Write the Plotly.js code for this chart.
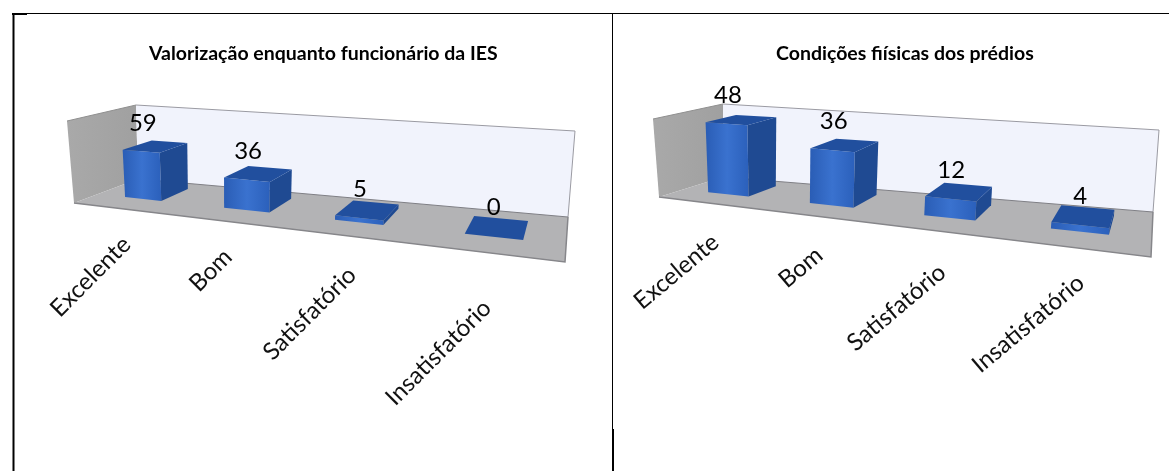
<!DOCTYPE html><html><head><meta charset="utf-8"><script src="https://cdn.plot.ly/plotly-3.0.0.min.js"></script>
<style>html,body{margin:0;padding:0;background:#fff}#c{width:1169px;height:471px}
.scatterlayer,.annotation{filter:blur(.5px)}</style></head><body><div id="c"></div><script>
const categories=["Excelente","Bom","Satisfatório","Insatisfatório"];
const leftTitle="Valorização enquanto funcionário da IES";
const rightTitle="Condições fiísicas dos prédios";
const leftValues=[59,36,5,0];
const rightValues=[48,36,12,4];

const panels=[
 {title:leftTitle,values:leftValues,zMax:100,titleX:323,titleY:52,
  floor:[[74,203],[565,262],[568,217],[138,179]],
  rise:[[-7,-82],[10,-95],[7,-86],[-2,-74]],
  uc:[.137,.409,.652,.89],uw:[.105,.108,.095,.093],
  tick:{pos:[[89,275],[209,269],[308,312],[437,351]],ang:-45}},
 {title:rightTitle,values:rightValues,zMax:53,titleX:905,titleY:52,
  floor:[[659,197],[1151,257],[1153,212],[723,177]],
  rise:[[-6,-78],[9,-90],[6,-82],[0,-73]],
  uc:[.155,.444,.694,.904],uw:[.13,.106,.094,.082],
  tick:{pos:[[675,270],[799,266],[895,306],[1027,322]],ang:-40}}
];
const depth=[.34,.8];
const FONT="Lato, Carlito, 'Open Sans', sans-serif";

function homo(q){const [x0,y0]=q[0],[x1,y1]=q[1],[x2,y2]=q[2],[x3,y3]=q[3];
 const dx1=x1-x2,dx2=x3-x2,sx=x0-x1+x2-x3,dy1=y1-y2,dy2=y3-y2,sy=y0-y1+y2-y3,den=dx1*dy2-dx2*dy1;
 const g=(sx*dy2-dx2*sy)/den,h=(dx1*sy-sx*dy1)/den;
 return [x1-x0+g*x1,x3-x0+h*x3,x0,y1-y0+g*y1,y3-y0+h*y3,y0,g,h];}
function projector(p){const m=homo(p.floor),r=p.rise;
 return (u,d,v)=>{const w=m[6]*u+m[7]*d+1,x=(m[0]*u+m[1]*d+m[2])/w,y=(m[3]*u+m[4]*d+m[5])/w,
  k=(v||0)/p.zMax,
  rx=(1-u)*(1-d)*r[0][0]+u*(1-d)*r[1][0]+u*d*r[2][0]+(1-u)*d*r[3][0],
  ry=(1-u)*(1-d)*r[0][1]+u*(1-d)*r[1][1]+u*d*r[2][1]+(1-u)*d*r[3][1];
  return [x+k*rx,y+k*ry];};}

const traces=[];
function poly(pts,color,grad){const xs=pts.map(a=>a[0]),ys=pts.map(a=>a[1]);xs.push(xs[0]);ys.push(ys[0]);
 const t={type:'scatter',mode:'lines',x:xs,y:ys,fill:'toself',line:{width:0},hoverinfo:'skip',showlegend:false};
 if(grad)t.fillgradient=grad;else t.fillcolor=color;traces.push(t);}
function edge(pts,color,w){traces.push({type:'scatter',mode:'lines',x:pts.map(a=>a[0]),y:pts.map(a=>a[1]),
 line:{color:color,width:w},hoverinfo:'skip',showlegend:false});}

const annotations=[];
panels.forEach(p=>{
 const P=projector(p),T=p.zMax;
 poly([P(0,0,0),P(0,0,T),P(0,1,T),P(0,1,0)],null,{type:'horizontal',colorscale:[[0,'#a9a9a9'],[1,'#a0a0a0']]});
 poly([P(0,1,0),P(0,1,T),P(1,1,T),P(1,1,0)],'#f1f3fc');
 poly([P(0,0,0),P(1,0,0),P(1,1,0),P(0,1,0)],'#b3b3b5');
 edge([P(0,1,T),P(1,1,T),P(1,1,0)],'#9a9aa2',1);
 edge([P(0,1,0),P(1,1,0)],'#7f7f85',1);
 edge([P(0,0,0),P(1,0,0),P(1,1,0)],'#86868a',1.5);
 edge([P(0,0,T),P(0,1,T)],'#8f8f8f',1);
 const lx=[],ly=[];
 p.values.forEach((v,i)=>{
  const a=p.uc[i]-p.uw[i]/2,b=p.uc[i]+p.uw[i]/2,d0=depth[0],d1=depth[1];
  poly([P(a,d0,0),P(b,d0,0),P(b,d0,v),P(a,d0,v)],null,{type:'horizontal',colorscale:[[0,'#2a5db5'],[.5,'#3a72cf'],[1,'#2b60bb']]});
  poly([P(b,d0,0),P(b,d1,0),P(b,d1,v),P(b,d0,v)],'#1f4a92');
  poly([P(a,d0,v),P(b,d0,v),P(b,d1,v),P(a,d1,v)],'#214f9e');
  const L=P(p.uc[i],.37,v);lx.push(L[0]);ly.push(L[1]-26);
 });
 traces.push({type:'scatter',mode:'text',x:lx,y:ly,text:p.values.map(String),textposition:'middle center',
  textfont:{family:FONT,size:24,color:'#000'},hoverinfo:'skip',showlegend:false,cliponaxis:false});
 annotations.push({x:p.titleX,y:p.titleY,xref:'x',yref:'y',text:'<b>'+p.title+'</b>',showarrow:false,
  font:{family:FONT,size:19.5,color:'#000'}});
 categories.forEach((c,i)=>annotations.push({x:p.tick.pos[i][0],y:p.tick.pos[i][1],xref:'x',yref:'y',text:c,showarrow:false,
  textangle:p.tick.ang,font:{family:FONT,size:24,color:'#111'}}));
});

const line=(x0,y0,x1,y1,w)=>({type:'line',xref:'x',yref:'y',x0,y0,x1,y1,line:{color:'#000',width:w}});
const shapes=[line(12,13.5,1169,13.5,1),line(12,14,27,14,2),line(13.5,13,13.5,471,2),
 line(612.5,13,612.5,430,1),line(613,429,613,471,2)];

const ax={range:[0,1169],visible:false,fixedrange:true};
Plotly.newPlot('c',traces,{width:1169,height:471,margin:{l:0,r:0,t:0,b:0},paper_bgcolor:'#fff',plot_bgcolor:'#fff',
 xaxis:ax,yaxis:{range:[471,0],visible:false,fixedrange:true},shapes,annotations,showlegend:false},{displayModeBar:false,staticPlot:true});
</script></body></html>
